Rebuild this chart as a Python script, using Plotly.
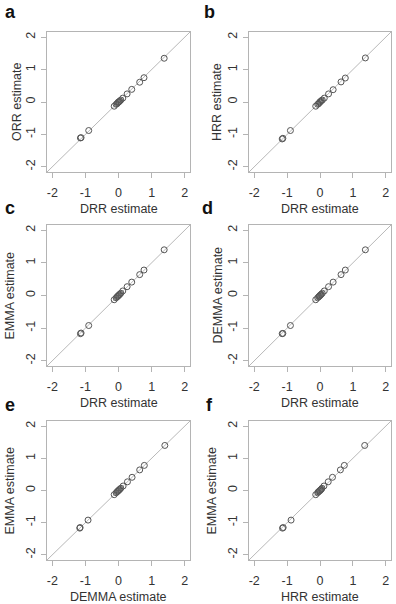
import plotly.graph_objects as go

# ---- data ----
DRR   = [-1.15, -1.13, -0.90, -0.13, -0.07, -0.04, -0.02, 0.00, 0.02, 0.04, 0.07, 0.13, 0.26, 0.40, 0.64, 0.77, 1.38]
ORR   = [-1.11, -1.10, -0.88, -0.13, -0.07, -0.05, -0.02, 0.00, 0.01, 0.03, 0.06, 0.12, 0.25, 0.39, 0.61, 0.75, 1.35]
HRR   = [-1.14, -1.12, -0.88, -0.13, -0.07, -0.05, -0.02, 0.00, 0.02, 0.04, 0.06, 0.12, 0.25, 0.38, 0.62, 0.74, 1.36]
EMMA  = [-1.17, -1.15, -0.92, -0.13, -0.07, -0.04, -0.02, 0.00, 0.02, 0.04, 0.07, 0.14, 0.27, 0.41, 0.64, 0.78, 1.40]
DEMMA = [-1.17, -1.16, -0.92, -0.13, -0.07, -0.04, -0.02, 0.00, 0.02, 0.04, 0.07, 0.14, 0.27, 0.41, 0.64, 0.78, 1.40]

tick_vals = [-2, -1, 0, 1, 2]
tick_text = ["-2", "-1", "0", "1", "2"]
axis_range = [-2.16, 2.16]

# panels: letter, x data, y data, x title, y title
panels = [
    ("a", DRR, ORR, "DRR estimate", "ORR estimate"),
    ("b", DRR, HRR, "DRR estimate", "HRR estimate"),
    ("c", DRR, EMMA, "DRR estimate", "EMMA estimate"),
    ("d", DRR, DEMMA, "DRR estimate", "DEMMA estimate"),
    ("e", DEMMA, EMMA, "DEMMA estimate", "EMMA estimate"),
    ("f", HRR, EMMA, "HRR estimate", "EMMA estimate"),
]

W, H = 396, 604
# pixel boxes (left, right, top, bottom)
boxes = [
    (47, 190, 32, 172), (249, 391, 32, 172),
    (47, 190, 225, 366), (249, 391, 225, 366),
    (47, 190, 421, 560), (249, 391, 421, 560),
]
ytitle_x = [17, 217, 9, 217, 9, 211]
letter_pos = [(10, 12), (209, 12), (10, 208), (207, 208), (10, 405), (209, 405)]

FONT = "Liberation Sans, Arial, sans-serif"
BOX = "#b4b4b4"
TXT = "#333333"

fig = go.Figure()
annotations = []
shapes = []
layout = dict(
    width=W, height=H, margin=dict(l=0, r=0, t=0, b=0),
    paper_bgcolor="white", plot_bgcolor="white", showlegend=False,
    font=dict(family=FONT, color=TXT, size=12),
)

for i, (letter, xs, ys, xt, yt) in enumerate(panels):
    n = i + 1
    xa = "x" if n == 1 else f"x{n}"
    ya = "y" if n == 1 else f"y{n}"
    l, r, t, b = boxes[i]
    common = dict(
        range=axis_range, tickvals=tick_vals, ticktext=tick_text,
        showgrid=False, zeroline=False, showline=True, mirror=True,
        linecolor=BOX, linewidth=1, ticks="outside", ticklen=5,
        tickcolor=BOX, tickwidth=1, tickfont=dict(size=12.5, color=TXT, family=FONT),
    )
    layout["xaxis" if n == 1 else f"xaxis{n}"] = dict(
        domain=[l / W, r / W], anchor=ya, ticklabelstandoff=4, **common)
    layout["yaxis" if n == 1 else f"yaxis{n}"] = dict(
        domain=[1 - b / H, 1 - t / H], anchor=xa, tickangle=-90,
        ticklabelstandoff=1, **common)

    shapes.append(dict(type="line", xref=f"{xa} domain", yref=f"{ya} domain",
                       x0=0, y0=0, x1=1, y1=1, line=dict(color="#b8b8b8", width=1),
                       layer="below"))

    fig.add_trace(go.Scatter(
        x=xs, y=ys, mode="markers", xaxis=xa, yaxis=ya,
        marker=dict(symbol="circle-open", size=6, color="#555555",
                    line=dict(width=1, color="#555555")),
        hoverinfo="x+y"))

    cx = (l + r) / 2
    cy = (t + b) / 2
    annotations.append(dict(text=xt, x=cx / W, y=1 - (b + 37) / H, xref="paper", yref="paper",
                            showarrow=False, xanchor="center", yanchor="middle",
                            font=dict(size=12.5, color=TXT, family=FONT)))
    annotations.append(dict(text=yt, x=ytitle_x[i] / W, y=1 - cy / H, xref="paper", yref="paper",
                            showarrow=False, xanchor="center", yanchor="middle", textangle=-90,
                            font=dict(size=12.5, color=TXT, family=FONT)))
    lx, ly = letter_pos[i]
    annotations.append(dict(text=f"<b>{letter}</b>", x=lx / W, y=1 - ly / H,
                            xref="paper", yref="paper", showarrow=False,
                            xanchor="center", yanchor="middle",
                            font=dict(size=18, color="#111111", family=FONT)))

layout["annotations"] = annotations
layout["shapes"] = shapes
fig.update_layout(**layout)
fig.write_html("out.html")
